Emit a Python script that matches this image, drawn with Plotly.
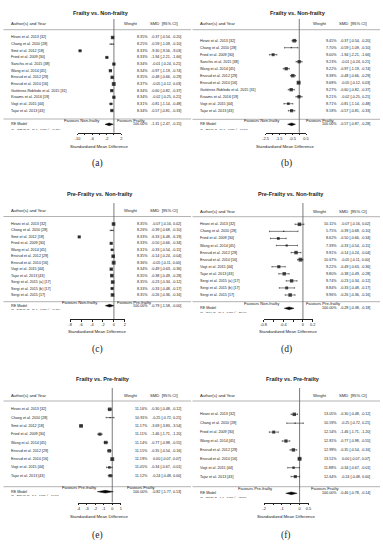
import plotly.graph_objects as go

W, H = 383, 550

# ---------------- data ----------------
titles = ["Frailty vs. Non-frailty", "Frailty vs. Non-frailty",
          "Pre-Frailty vs. Non-frailty", "Pre-Frailty vs. Non-frailty",
          "Frailty vs. Pre-frailty", "Frailty vs. Pre-frailty"]
panel_labels = ["(a)", "(b)", "(c)", "(d)", "(e)", "(f)"]
fav_left = ["Favours Non-frailty", "Favours Non-frailty", "Favours Non-frailty",
            "Favours Non-frailty", "Favours Pre-frailty", "Favours Pre-frailty"]
fav_right = ["Favours Frailty", "Favours Frailty", "Favours Pre-frailty",
             "Favours Pre-frailty", "Favours Frailty", "Favours Frailty"]

# (a) Frailty vs Non-frailty (all studies)
studies_a = ["Hirani et al. 2013 [32]", "Chang et al. 2010 [28]", "Smit et al. 2012 [18]",
             "Fried et al. 2009 [30]", "Sanchis et al. 2015 [38]", "Wang et al. 2014 [45]",
             "Ensrud et al. 2012 [29]", "Ensrud et al. 2010 [16]",
             "Gutiérrez-Robledo et al. 2015 [31]", "Kraams et al. 2016 [19]",
             "Vogt et al. 2015 [44]", "Tajar et al. 2013 [43]"]
weight_a = [8.35, 8.25, 8.33, 8.33, 8.34, 8.34, 8.35, 8.37, 8.34, 8.34, 8.31, 8.34]
smd_a = [-0.37, -0.59, -9.30, -1.94, -0.01, -0.97, -0.48, -0.05, -0.60, -0.02, -0.81, -0.57]
lo_a = [-0.54, -1.09, -9.56, -2.21, -0.24, -1.19, -0.66, -0.12, -0.82, -0.25, -1.14, -0.81]
hi_a = [-0.20, -0.10, -9.03, -1.66, 0.21, -0.74, -0.29, 0.03, -0.37, 0.21, -0.48, -0.33]
re_a = [-1.31, -2.47, -0.15]
q_a = "(Q = 4582.72, df = 11, p = 0.000; I² = 99.8%)"
ticks_a = [-10, -8, -6, -4, -2, 0, 2]
ticklab_a = ["-10", "", "-6", "", "-2", "", "2"]

# (b) Frailty vs Non-frailty (without Smit)
studies_b = ["Hirani et al. 2013 [32]", "Chang et al. 2010 [28]", "Fried et al. 2009 [30]",
             "Sanchis et al. 2015 [38]", "Wang et al. 2014 [45]", "Ensrud et al. 2012 [29]",
             "Ensrud et al. 2010 [16]", "Gutiérrez-Robledo et al. 2015 [31]",
             "Kraams et al. 2016 [19]", "Vogt et al. 2015 [44]", "Tajar et al. 2013 [43]"]
weight_b = [9.45, 7.70, 9.00, 9.23, 9.22, 9.38, 9.68, 9.27, 9.21, 8.71, 9.18]
smd_b = [-0.37, -0.59, -1.94, -0.01, -0.97, -0.48, -0.05, -0.60, -0.02, -0.81, -0.57]
lo_b = [-0.54, -1.09, -2.21, -0.24, -1.19, -0.66, -0.12, -0.82, -0.25, -1.14, -0.81]
hi_b = [-0.20, -0.10, -1.66, 0.21, -0.74, -0.29, 0.03, -0.37, 0.21, -0.48, -0.33]
re_b = [-0.57, -0.87, -0.28]
q_b = "(Q = 253.16, df = 10, p = 0.000; I² = 96.1%)"
ticks_b = [-2.5, -2, -1.5, -1, -0.5, 0, 0.5]
ticklab_b = ["-2.5", "", "-1.5", "", "-0.5", "", "0.5"]

# (c) Pre-frailty vs Non-frailty (all studies)
studies_c = ["Hirani et al. 2013 [32]", "Chang et al. 2010 [28]", "Smit et al. 2012 [18]",
             "Fried et al. 2009 [30]", "Wang et al. 2014 [45]", "Ensrud et al. 2012 [29]",
             "Ensrud et al. 2010 [16]", "Vogt et al. 2015 [44]", "Tajar et al. 2013 [43]",
             "Sergi et al. 2015 (a) [17]", "Sergi et al. 2015 (b) [17]", "Sergi et al. 2015 [17]"]
weight_c = [8.35, 8.26, 8.33, 8.33, 8.31, 8.35, 8.36, 8.34, 8.35, 8.35, 8.33, 8.35]
smd_c = [-0.07, -0.39, -6.33, -0.50, -0.33, -0.14, -0.05, -0.49, -0.38, -0.23, -0.33, -0.26]
lo_c = [-0.16, -0.68, -6.48, -0.66, -0.54, -0.24, -0.11, -0.63, -0.49, -0.34, -0.48, -0.36]
hi_c = [0.02, -0.10, -6.19, -0.34, -0.11, -0.04, 0.00, -0.36, -0.28, -0.12, -0.17, -0.16]
re_c = [-0.79, -1.58, -0.00]
q_c = "(Q = 5478.19, df = 11, p = 0.000; I² = 99.8%)"
ticks_c = [-8, -6, -4, -2, 0, 2]
ticklab_c = ["-8", "-6", "-4", "-2", "0", "2"]

# (d) Pre-frailty vs Non-frailty (without Smit)
studies_d = ["Hirani et al. 2013 [32]", "Chang et al. 2010 [28]", "Fried et al. 2009 [30]",
             "Wang et al. 2014 [45]", "Ensrud et al. 2012 [29]", "Ensrud et al. 2010 [16]",
             "Vogt et al. 2015 [44]", "Tajar et al. 2013 [43]", "Sergi et al. 2015 (a) [17]",
             "Sergi et al. 2015 (b) [17]", "Sergi et al. 2015 [17]"]
weight_d = [10.11, 5.75, 8.62, 7.39, 9.91, 10.67, 9.22, 9.80, 9.74, 8.84, 9.96]
smd_d = [-0.07, -0.39, -0.50, -0.33, -0.14, -0.05, -0.49, -0.38, -0.23, -0.33, -0.26]
lo_d = [-0.16, -0.68, -0.66, -0.54, -0.24, -0.11, -0.63, -0.49, -0.34, -0.48, -0.36]
hi_d = [0.02, -0.10, -0.34, -0.11, -0.04, 0.00, -0.36, -0.28, -0.12, -0.17, -0.16]
re_d = [-0.28, -0.38, -0.18]
q_d = "(Q = 95.64, df = 10, p = 0.000; I² = 88.4%)"
ticks_d = [-0.8, -0.6, -0.4, -0.2, 0, 0.2]
ticklab_d = ["-0.8", "", "-0.4", "", "0", "0.2"]

# (e) Frailty vs Pre-frailty (all studies)
studies_e = ["Hirani et al. 2013 [32]", "Chang et al. 2010 [28]", "Smit et al. 2012 [18]",
             "Fried et al. 2009 [30]", "Wang et al. 2014 [45]", "Ensrud et al. 2012 [29]",
             "Ensrud et al. 2010 [16]", "Vogt et al. 2015 [44]", "Tajar et al. 2013 [43]"]
weight_e = [11.16, 10.91, 11.17, 11.11, 11.14, 11.15, 11.19, 11.05, 11.12]
smd_e = [-0.30, -0.25, -3.69, -1.46, -0.77, -0.35, 0.00, -0.34, -0.24]
lo_e = [-0.48, -0.72, -3.83, -1.71, -0.98, -0.54, -0.07, -0.67, -0.48]
hi_e = [-0.12, 0.21, -3.54, -1.20, -0.55, -0.16, 0.07, -0.01, 0.00]
re_e = [-0.82, -1.77, 0.13]
q_e = "(Q = 2054.01, df = 8, p = 0.000; I² = 99.6%)"
ticks_e = [-4, -3, -2, -1, 0, 1]
ticklab_e = ["-4", "-3", "-2", "-1", "0", "1"]

# (f) Frailty vs Pre-frailty (without Smit)
studies_f = ["Hirani et al. 2013 [32]", "Chang et al. 2010 [28]", "Fried et al. 2009 [30]",
             "Wang et al. 2014 [45]", "Ensrud et al. 2012 [29]", "Ensrud et al. 2010 [16]",
             "Vogt et al. 2015 [44]", "Tajar et al. 2013 [43]"]
weight_f = [13.05, 10.59, 12.54, 12.81, 12.99, 13.51, 11.88, 12.64]
smd_f = [-0.30, -0.25, -1.46, -0.77, -0.35, 0.00, -0.34, -0.24]
lo_f = [-0.48, -0.72, -1.71, -0.98, -0.54, -0.07, -0.67, -0.48]
hi_f = [-0.12, 0.21, -1.20, -0.55, -0.16, 0.07, -0.01, 0.00]
re_f = [-0.46, -0.78, -0.14]
q_f = "(Q = 157.21, df = 7, p = 0.000; I² = 95.5%)"
ticks_f = [-2, -1.5, -1, -0.5, 0, 0.5]
ticklab_f = ["-2", "", "-1", "", "0", "0.5"]

panels = [
    (studies_a, weight_a, smd_a, lo_a, hi_a, re_a, q_a, ticks_a, ticklab_a),
    (studies_b, weight_b, smd_b, lo_b, hi_b, re_b, q_b, ticks_b, ticklab_b),
    (studies_c, weight_c, smd_c, lo_c, hi_c, re_c, q_c, ticks_c, ticklab_c),
    (studies_d, weight_d, smd_d, lo_d, hi_d, re_d, q_d, ticks_d, ticklab_d),
    (studies_e, weight_e, smd_e, lo_e, hi_e, re_e, q_e, ticks_e, ticklab_e),
    (studies_f, weight_f, smd_f, lo_f, hi_f, re_f, q_f, ticks_f, ticklab_f),
]

# ---------------- layout geometry (pixels) ----------------
geom = [
    dict(x0=0, zero=112.7, ppu=3.7, tx=100, title=13, head=23.5, hl1=29.7, vtop=19, row1=37.5, sp=6.64,
         hl2=119, fav=120.6, re=124.3, q=129, axis=132.7, xlab=146.7, lab=164, favL=100, favR=115),
    dict(x0=192, zero=109, ppu=13.7, tx=108, title=13, head=23.5, hl1=29.7, vtop=19, row1=40.7, sp=7.0,
         hl2=119.3, fav=120.6, re=124.3, q=129, axis=132.7, xlab=146.7, lab=164, favL=90, favR=115),
    dict(x0=0, zero=112.7, ppu=5.57, tx=99, title=194, head=210.7, hl1=216.5, vtop=203, row1=224, sp=6.45,
         hl2=301.7, fav=302.8, re=305.7, q=309.5, axis=319, xlab=331.3, lab=349, favL=97.3, favR=115),
    dict(x0=192, zero=112.7, ppu=50, tx=100.7, title=194, head=211.5, hl1=216.7, vtop=203, row1=224.3, sp=7.07,
         hl2=301.7, fav=303.8, re=308.3, q=312.3, axis=319, xlab=331.5, lab=349, favL=90.7, favR=115),
    dict(x0=0, zero=111, ppu=8.6, tx=101.5, title=379, head=395.7, hl1=401, vtop=388, row1=409.3, sp=8.3,
         hl2=486.7, fav=487.8, re=491.7, q=495.7, axis=502.5, xlab=516.7, lab=535, favL=96.7, favR=125),
    dict(x0=192, zero=109.3, ppu=18, tx=102.5, title=379, head=395.7, hl1=401, vtop=388, row1=414.3, sp=8.9,
         hl2=486.7, fav=488.8, re=493.3, q=497.3, axis=502.5, xlab=516.7, lab=535, favL=83.3, favR=120),
]

FONT = "Liberation Sans, Arial, sans-serif"
TXT = "#222"
fs = 3.7
fh = 4.2

fig = go.Figure()
annotations = []
shapes = []
axes = {}


def fmt(v):
    return f"{v:.2f}"


for i, (data, g) in enumerate(zip(panels, geom)):
    studies, wts, smd, lo, hi, re, qtxt, ticks, ticklab = data
    k = i + 1
    sx = "" if k == 1 else str(k)
    xr, yr = "x" + sx, "y" + sx
    x0 = g["x0"]
    n = len(studies)

    def r(px, g=g):
        return 1 + (px - g["row1"]) / g["sp"]

    def py(px):
        return 1 - px / H

    def pxx(px, x0=x0):
        return (x0 + px) / W

    tmin, tmax = ticks[0], ticks[-1]
    left = x0 + g["zero"] + tmin * g["ppu"]
    right = x0 + g["zero"] + tmax * g["ppu"]
    top_px = g["title"] - 8

    axes["xaxis" + sx] = dict(domain=[left / W, right / W], range=[tmin, tmax], anchor=yr,
                              showline=True, linecolor=TXT, linewidth=0.6, ticks="outside",
                              ticklen=1.8, tickwidth=0.6, tickcolor=TXT, tickvals=ticks,
                              ticktext=ticklab, tickfont=dict(family=FONT, size=3.9, color=TXT),
                              showgrid=False, zeroline=False, fixedrange=True, ticklabelstandoff=0)
    axes["yaxis" + sx] = dict(domain=[py(g["axis"]), py(top_px)], range=[r(g["axis"]), r(top_px)],
                              anchor=xr, visible=False, fixedrange=True)

    # study squares and CIs
    wmin, wmax = min(wts), max(wts)
    sizes = [2.6 * (0.5 + (w - wmin) / (wmax - wmin)) for w in wts]
    rows = list(range(1, n + 1))
    fig.add_trace(go.Scatter(
        x=smd, y=rows, xaxis=xr, yaxis=yr, mode="markers",
        marker=dict(symbol="square", size=sizes, color="black", line=dict(width=0)),
        error_x=dict(type="data", symmetric=False,
                     array=[h - s for h, s in zip(hi, smd)],
                     arrayminus=[s - l for s, l in zip(smd, lo)],
                     color="black", thickness=0.5, width=0.8),
        cliponaxis=False, showlegend=False, hoverinfo="skip"))

    # RE diamond
    rr = r(g["re"])
    hh = 1.4 / g["sp"]
    fig.add_trace(go.Scatter(
        x=[re[1], re[0], re[2], re[0], re[1]], y=[rr, rr - hh, rr, rr + hh, rr],
        xaxis=xr, yaxis=yr, mode="lines", fill="toself", fillcolor="black",
        line=dict(color="black", width=0.4), cliponaxis=False, showlegend=False, hoverinfo="skip"))

    # vertical zero line
    shapes.append(dict(type="line", xref=xr, yref="paper", x0=0, x1=0,
                       y0=py(g["vtop"]), y1=py(g["axis"]), line=dict(color=TXT, width=0.6)))
    # horizontal separators
    for yy in (g["hl1"], g["hl2"]):
        shapes.append(dict(type="line", xref="paper", yref="paper", x0=pxx(0.5), x1=pxx(191),
                           y0=py(yy), y1=py(yy), line=dict(color="#666", width=0.5)))

    def A(text, x, y, yref="paper", xanchor="left", size=fs, color=TXT, family=FONT):
        annotations.append(dict(text=text, x=x, y=y, xref="paper", yref=yref, xanchor=xanchor,
                                yanchor="middle", showarrow=False, borderpad=0,
                                font=dict(family=family, size=size, color=color)))

    # title
    A("<b>" + titles[i] + "</b>", pxx(g["tx"]), py(g["title"]), xanchor="center", size=5.5)
    # header
    A("Author(s) and Year", pxx(7.3), py(g["head"]), size=fh)
    A("Weight", pxx(138.5), py(g["head"]), xanchor="right", size=fh)
    A("SMD  [95% CI]", pxx(179), py(g["head"]), xanchor="right", size=fh)
    # rows
    for j in range(n):
        A(studies[j], pxx(7.3), rows[j], yref=yr)
        A(f"{wts[j]:.2f}%", pxx(148), rows[j], yref=yr, xanchor="right")
        A(f"{fmt(smd[j])} [{fmt(lo[j])}, {fmt(hi[j])}]", pxx(181.5), rows[j], yref=yr, xanchor="right")
    # summary
    A("RE Model", pxx(7.3), rr, yref=yr)
    A("100.00%", pxx(148), rr, yref=yr, xanchor="right")
    A(f"{fmt(re[0])} [{fmt(re[1])}, {fmt(re[2])}]", pxx(181.5), rr, yref=yr, xanchor="right")
    A(qtxt, pxx(7.3), py(g["q"]), size=2.5)
    A(fav_left[i], pxx(g["favL"]), py(g["fav"]), xanchor="right", size=4.2)
    A(fav_right[i], pxx(g["favR"]), py(g["fav"]), xanchor="left", size=4.2)
    # x label
    A("Standardized Mean Difference", (left + right) / 2 / W, py(g["xlab"]), xanchor="center", size=4.3)
    # panel label
    A(panel_labels[i], pxx(96), py(g["lab"]), xanchor="center", size=9.5,
      family="Liberation Serif, Times New Roman, serif")

fig.update_layout(width=W, height=H, margin=dict(l=0, r=0, t=0, b=0),
                  paper_bgcolor="white", plot_bgcolor="white",
                  annotations=annotations, shapes=shapes, showlegend=False, **axes)

fig.write_html("out.html", config={"displayModeBar": False},
               post_script="document.body.style.margin='0px';")
